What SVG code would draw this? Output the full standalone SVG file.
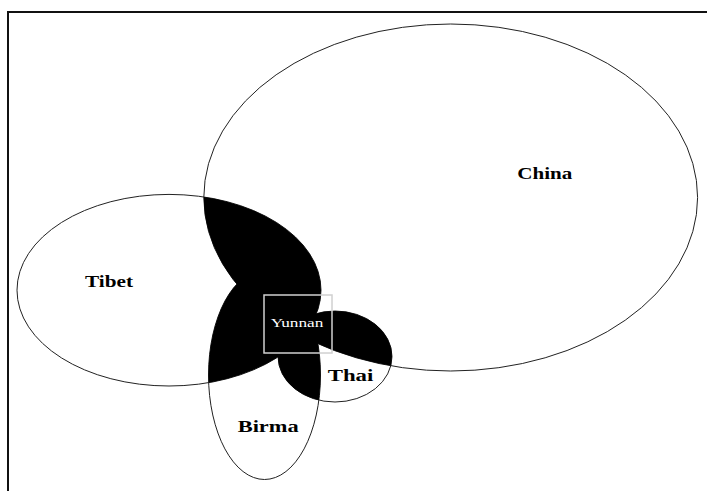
<svg xmlns="http://www.w3.org/2000/svg" width="707" height="491" viewBox="0 0 707 491">
<style>
.outline{fill:none;stroke:#222;stroke-width:1}
.lbl{font-family:"Liberation Serif","Times New Roman",serif;font-weight:bold;font-size:17.5px;fill:#000}
.ov{fill:#000;stroke:none}
</style>
<defs>
<clipPath id="cC"><ellipse cx="450.7" cy="197.5" rx="246.9" ry="173.5"/></clipPath>
<clipPath id="cT"><ellipse cx="169" cy="290.2" rx="152" ry="95.8"/></clipPath>
<clipPath id="cB"><ellipse cx="264.5" cy="375" rx="56" ry="104.5"/></clipPath>
</defs>
<rect x="0" y="0" width="707" height="491" fill="#fff"/>
<g id="frame" stroke="#111" stroke-width="2" fill="none">
<path d="M8,491 V12 H707"/>
</g>
<g id="china">
<ellipse class="outline" cx="450.7" cy="197.5" rx="246.9" ry="173.5"/>
<text class="lbl" x="517.3" y="178.5" textLength="55" lengthAdjust="spacingAndGlyphs">China</text>
</g>
<g id="tibet">
<ellipse class="outline" cx="169" cy="290.2" rx="152" ry="95.8"/>
<text class="lbl" x="85" y="287" textLength="48" lengthAdjust="spacingAndGlyphs">Tibet</text>
</g>
<g id="birma">
<ellipse class="outline" cx="264.5" cy="375" rx="56" ry="104.5"/>
<text class="lbl" x="237.7" y="432" textLength="61" lengthAdjust="spacingAndGlyphs">Birma</text>
</g>
<g id="thai">
<ellipse class="outline" cx="335" cy="356.5" rx="57" ry="45.5"/>
<text class="lbl" x="327.7" y="380.5" textLength="45.6" lengthAdjust="spacingAndGlyphs">Thai</text>
</g>
<g id="overlaps" class="ov">
<g clip-path="url(#cC)">
<ellipse cx="169" cy="290.2" rx="152" ry="95.8"/>
<ellipse cx="264.5" cy="375" rx="56" ry="104.5"/>
<ellipse cx="335" cy="356.5" rx="57" ry="45.5"/>
</g>
<g clip-path="url(#cT)">
<ellipse cx="264.5" cy="375" rx="56" ry="104.5"/>
<ellipse cx="335" cy="356.5" rx="57" ry="45.5"/>
</g>
<g clip-path="url(#cB)">
<ellipse cx="335" cy="356.5" rx="57" ry="45.5"/>
</g>
</g>
<g id="yunnan">
<rect x="264" y="295" width="68" height="58" fill="none" stroke="#d0d0d0" stroke-width="1.5"/>
<text x="270.7" y="327" textLength="52.6" lengthAdjust="spacingAndGlyphs" style="font-family:'Liberation Serif','Times New Roman',serif;font-size:12.5px;fill:#fff">Yunnan</text>
</g>
</svg>
